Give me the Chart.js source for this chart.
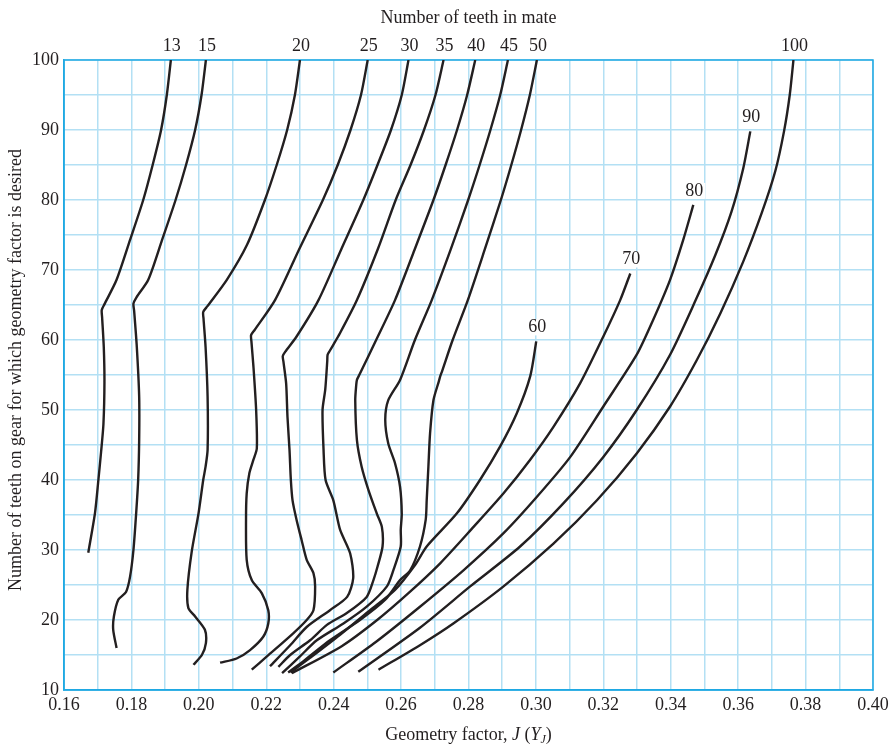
<!DOCTYPE html>
<html>
<head>
<meta charset="utf-8">
<title>Spur-gear geometry factor J</title>
<script src="https://cdn.jsdelivr.net/npm/chart.js@4.4.1/dist/chart.umd.min.js"></script>
<style>
  html, body { margin: 0; padding: 0; background: #fff; }
  #wrap { width: 894px; height: 748px; }
</style>
</head>
<body>
<div id="wrap"><canvas id="chart" width="894" height="748"></canvas></div>
<script>
// Axis grid / tick values
const jGrid = [0.16, 0.17, 0.18, 0.19, 0.20, 0.21, 0.22, 0.23, 0.24, 0.25, 0.26, 0.27, 0.28,
	0.29, 0.30, 0.31, 0.32, 0.33, 0.34, 0.35, 0.36, 0.37, 0.38, 0.39, 0.40];
const nGrid = [10, 15, 20, 25, 30, 35, 40, 45, 50, 55, 60, 65, 70, 75, 80, 85, 90, 95, 100];

// Number of teeth in mate (one curve each)
const mateTeeth = [13, 15, 20, 25, 30, 35, 40, 45, 50, 60, 70, 80, 90, 100];

// Curves, read from bottom end to labelled end: J values and gear teeth N
const mate13J = [0.1672, 0.1692, 0.1702, 0.1710, 0.1717, 0.1720, 0.1718, 0.1713, 0.1712, 0.1721, 0.1756, 0.1796, 0.1835, 0.1863, 0.1888, 0.1905, 0.1917];
const mate13N = [29.6, 35.3, 40, 44, 48, 54, 59, 63.3, 64.3, 65.2, 68.6, 74.3, 80, 85, 90, 95, 100];

const mate15J = [0.1756, 0.1746, 0.1748, 0.1761, 0.1784, 0.1796, 0.1806, 0.1814, 0.1820, 0.1823, 0.1823, 0.1816, 0.1808, 0.1806, 0.1815, 0.1850, 0.1891, 0.1931, 0.1962, 0.1989, 0.2008, 0.2021];
const mate15N = [16.0, 18.6, 20.5, 22.9, 24.0, 26.2, 30, 35.2, 40, 45.7, 51.9, 59.0, 64.2, 65.2, 66.1, 68.6, 74.3, 80, 85, 90, 95, 100];

const mate20J = [0.1984, 0.2009, 0.2021, 0.2018, 0.1989, 0.1969, 0.1966, 0.1979, 0.1999, 0.2013, 0.2020, 0.2026, 0.2026, 0.2020, 0.2014, 0.2013, 0.2025, 0.2083, 0.2143, 0.2196, 0.2231, 0.2262, 0.2285, 0.2300];
const mate20N = [13.6, 15.0, 16.7, 18.6, 20.5, 21.7, 24.3, 29.8, 35.2, 40, 41.9, 44.3, 51.9, 59.0, 63.0, 64.0, 64.8, 68.6, 73.6, 80, 85, 90, 95, 100];

const mate25J = [0.2063, 0.2112, 0.2152, 0.2191, 0.2206, 0.2206, 0.2187, 0.2157, 0.2142, 0.2140, 0.2142, 0.2150, 0.2162, 0.2172, 0.2170, 0.2162, 0.2156, 0.2155, 0.2165, 0.2226, 0.2297, 0.2368, 0.2412, 0.2450, 0.2481, 0.2501];
const mate25N = [13.9, 14.5, 15.7, 17.6, 19.5, 21.4, 23.8, 25.7, 28.6, 34.3, 38.1, 41, 42.9, 44.5, 50, 56.2, 59.8, 60.7, 61.4, 65.7, 72.9, 80, 85, 90, 95, 100];

const mate30J = [0.2157, 0.2202, 0.2280, 0.2320, 0.2340, 0.2345, 0.2340, 0.2320, 0.2305, 0.2290, 0.2278, 0.2273, 0.2269, 0.2263, 0.2259, 0.2251, 0.2249, 0.2256, 0.2290, 0.2355, 0.2422, 0.2488, 0.2530, 0.2570, 0.2602, 0.2622];
const mate30N = [12.9, 14.8, 18.1, 20, 21.4, 24.8, 26.7, 28.6, 31.4, 34.3, 37.1, 40, 44.3, 49, 53.8, 56.9, 57.7, 58.3, 60.5, 65.7, 72.9, 80, 85, 90, 95, 100];

const mate35J = [0.2211, 0.2271, 0.2320, 0.2389, 0.2440, 0.2458, 0.2449, 0.2419, 0.2399, 0.2376, 0.2370, 0.2367, 0.2375, 0.2381, 0.2382, 0.2389, 0.2419, 0.2469, 0.2532, 0.2584, 0.2628, 0.2668, 0.2702, 0.2726];
const mate35N = [13.4, 16.4, 19.0, 21.4, 23.3, 26, 29.5, 32.9, 37.1, 40, 44.3, 50, 52.9, 57.0, 57.9, 58.5, 61, 65.7, 73.1, 80, 85, 90, 95, 100];

const mate40J = [0.2236, 0.2271, 0.2330, 0.2380, 0.2439, 0.2498, 0.2518, 0.2530, 0.2545, 0.2543, 0.2528, 0.2503, 0.2483, 0.2469, 0.2464, 0.2467, 0.2469, 0.2477, 0.2526, 0.2582, 0.2640, 0.2696, 0.2732, 0.2766, 0.2796, 0.2820];
const mate40N = [13.3, 15, 17.1, 19.3, 21.0, 23.3, 25.7, 27.6, 30.5, 33.3, 35.2, 38.6, 41.9, 45.7, 51.4, 53.6, 54.3, 55.1, 60, 65.7, 72.9, 80, 85, 90, 95, 100];

const mate45J = [0.2247, 0.2300, 0.2350, 0.2429, 0.2498, 0.2558, 0.2577, 0.2599, 0.2599, 0.2602, 0.2597, 0.2582, 0.2562, 0.2553, 0.2562, 0.2597, 0.2641, 0.2691, 0.2747, 0.2799, 0.2833, 0.2865, 0.2894, 0.2917];
const mate45N = [12.4, 14.8, 17.1, 19.5, 21.9, 24.8, 27.1, 30.5, 32.9, 35.2, 39.0, 42.4, 45.2, 48.6, 51.4, 54.3, 60, 65.7, 72.9, 80, 85, 90, 95, 100];

const mate50J = [0.2265, 0.2315, 0.2389, 0.2478, 0.2553, 0.2597, 0.2627, 0.2656, 0.2673, 0.2676, 0.2681, 0.2686, 0.2696, 0.2712, 0.2716, 0.2722, 0.2753, 0.2798, 0.2848, 0.2896, 0.2927, 0.2956, 0.2982, 0.3003];
const mate50N = [12.5, 14.3, 17.1, 20, 22.9, 25.7, 27.1, 30.5, 34.3, 37.1, 41.9, 46.7, 51.4, 54.1, 54.8, 55.6, 60, 65.7, 72.9, 80, 85, 90, 95, 100];

const mate60J = [0.2272, 0.2330, 0.2419, 0.2508, 0.2582, 0.2642, 0.2676, 0.2765, 0.2834, 0.2894, 0.2943, 0.2983, 0.3001];
const mate60N = [12.5, 14.6, 17.9, 21.4, 24.3, 27.9, 30.5, 35.2, 40, 44.8, 49.5, 54.8, 59.8];

const mate70J = [0.2276, 0.2425, 0.2529, 0.2621, 0.2716, 0.2815, 0.2904, 0.2983, 0.3052, 0.3131, 0.3200, 0.3250, 0.3280];
const mate70N = [12.4, 16.3, 20, 23.8, 28.1, 33.3, 38.1, 42.9, 47.6, 53.8, 60.5, 65.7, 69.5];

const mate80J = [0.2399, 0.2526, 0.2656, 0.2785, 0.2904, 0.3003, 0.3102, 0.3200, 0.3299, 0.3348, 0.3398, 0.3437, 0.3467];
const mate80N = [12.5, 16.9, 21.9, 27.1, 32.4, 37.6, 43.3, 50.5, 57.9, 62.9, 68.6, 74.3, 79.3];

const mate90J = [0.2473, 0.2656, 0.2805, 0.2953, 0.3082, 0.3200, 0.3299, 0.3398, 0.3474, 0.3532, 0.3580, 0.3615, 0.3636];
const mate90N = [12.6, 18.9, 24.8, 30.5, 36.7, 43.3, 50, 57.9, 65.7, 72.1, 78.3, 84.5, 89.8];

const mate100J = [0.2533, 0.2656, 0.2755, 0.2904, 0.3052, 0.3181, 0.3299, 0.3398, 0.3477, 0.3547, 0.3615, 0.3671, 0.3710, 0.3736, 0.3753, 0.3764];
const mate100N = [12.9, 16.4, 19.5, 24.8, 30.9, 37.1, 43.8, 50.5, 57.1, 63.8, 71.2, 78.3, 84.1, 89.8, 95, 100];

const curveJ = [mate13J, mate15J, mate20J, mate25J, mate30J, mate35J, mate40J, mate45J, mate50J, mate60J, mate70J, mate80J, mate90J, mate100J];
const curveN = [mate13N, mate15N, mate20N, mate25N, mate30N, mate35N, mate40N, mate45N, mate50N, mate60N, mate70N, mate80N, mate90N, mate100N];

const INK = "#231f20";
const GRID_BLUE = "#b3e0f4";
const FRAME_BLUE = "#1fa9e3";
const SERIF = '"Liberation Serif", "Times New Roman", serif';

Chart.defaults.font.family = SERIF;
Chart.defaults.color = INK;

// Titles, frame and curve labels
const decorPlugin = {
	id: "decor",
	beforeDatasetsDraw(chart) {
		const { ctx, chartArea: a } = chart;
		ctx.save();
		ctx.strokeStyle = FRAME_BLUE;
		ctx.lineWidth = 1.5;
		ctx.strokeRect(a.left, a.top, a.right - a.left, a.bottom - a.top);
		ctx.restore();
	},
	afterDatasetsDraw(chart) {
		const { ctx, chartArea: a } = chart;
		ctx.save();
		ctx.textAlign = "center";
		ctx.textBaseline = "middle";
		ctx.font = "18px " + SERIF;

		// curve labels at the end of each curve
		chart.data.datasets.forEach(function (ds, i) {
			const pts = chart.getDatasetMeta(i).data;
			const end = pts[pts.length - 1];
			const lx = end.x + 1;
			const ly = end.y - 14;
			const w = ctx.measureText(ds.label).width;
			ctx.fillStyle = "#fff";
			ctx.fillRect(lx - w / 2 - 2, ly - 8, w + 4, 16);
			ctx.fillStyle = INK;
			ctx.fillText(ds.label, lx, ly);
		});

		// top title
		ctx.fillText("Number of teeth in mate", (a.left + a.right) / 2, 18);

		// y title
		ctx.save();
		ctx.translate(16, 370);
		ctx.rotate(-Math.PI / 2);
		ctx.font = "18px " + SERIF;
		ctx.fillText("Number of teeth on gear for which geometry factor is desired", 0, 0);
		ctx.restore();

		// x title with italic J and subscript
		const parts = [
			{ t: "Geometry factor, ", f: "18px " + SERIF, dy: 0 },
			{ t: "J", f: "italic 18px " + SERIF, dy: 0 },
			{ t: " (", f: "18px " + SERIF, dy: 0 },
			{ t: "Y", f: "italic 18px " + SERIF, dy: 0 },
			{ t: "J", f: "italic 12px " + SERIF, dy: 5 },
			{ t: ")", f: "18px " + SERIF, dy: 0 },
		];
		let total = 0;
		parts.forEach(function (p) {
			ctx.font = p.f;
			p.w = ctx.measureText(p.t).width;
			total += p.w;
		});
		let x = (a.left + a.right) / 2 - total / 2;
		ctx.textAlign = "left";
		parts.forEach(function (p) {
			ctx.font = p.f;
			ctx.fillText(p.t, x, 735 + p.dy);
			x += p.w;
		});
		ctx.restore();
	},
};

const datasets = mateTeeth.map(function (teeth, i) {
	return {
		label: String(teeth),
		data: curveJ[i].map(function (j, k) {
			return { x: j, y: curveN[i][k] };
		}),
		showLine: true,
		borderColor: INK,
		borderWidth: 2.4,
		pointRadius: 0,
		tension: 0.25,
		fill: false,
	};
});

new Chart(document.getElementById("chart"), {
	type: "scatter",
	data: { datasets: datasets },
	options: {
		responsive: false,
		animation: false,
		events: [],
		layout: { padding: { top: 60, right: 21, bottom: 0, left: 0 } },
		plugins: {
			legend: { display: false },
			tooltip: { enabled: false },
		},
		scales: {
			x: {
				type: "linear",
				min: 0.16,
				max: 0.4,
				afterBuildTicks: function (scale) {
					scale.ticks = jGrid.map(function (v) {
						return { value: v };
					});
				},
				afterFit: function (scale) {
					scale.height = 58;
				},
				ticks: {
					autoSkip: false,
					maxRotation: 0,
					padding: 4,
					color: INK,
					font: { size: 18 },
					callback: function (v) {
						return Math.round(v * 100) % 2 === 0 ? v.toFixed(2) : "";
					},
				},
				grid: { color: GRID_BLUE, lineWidth: 1.5, drawTicks: false },
				border: { color: FRAME_BLUE, width: 1.5 },
			},
			y: {
				type: "linear",
				min: 10,
				max: 100,
				afterBuildTicks: function (scale) {
					scale.ticks = nGrid.map(function (v) {
						return { value: v };
					});
				},
				afterFit: function (scale) {
					scale.width = 64;
				},
				ticks: {
					autoSkip: false,
					padding: 5,
					color: INK,
					font: { size: 18 },
					callback: function (v) {
						return v % 10 === 0 ? String(v) : "";
					},
				},
				grid: { color: GRID_BLUE, lineWidth: 1.5, drawTicks: false },
				border: { color: FRAME_BLUE, width: 1.5 },
			},
		},
	},
	plugins: [decorPlugin],
});
</script>
</body>
</html>
